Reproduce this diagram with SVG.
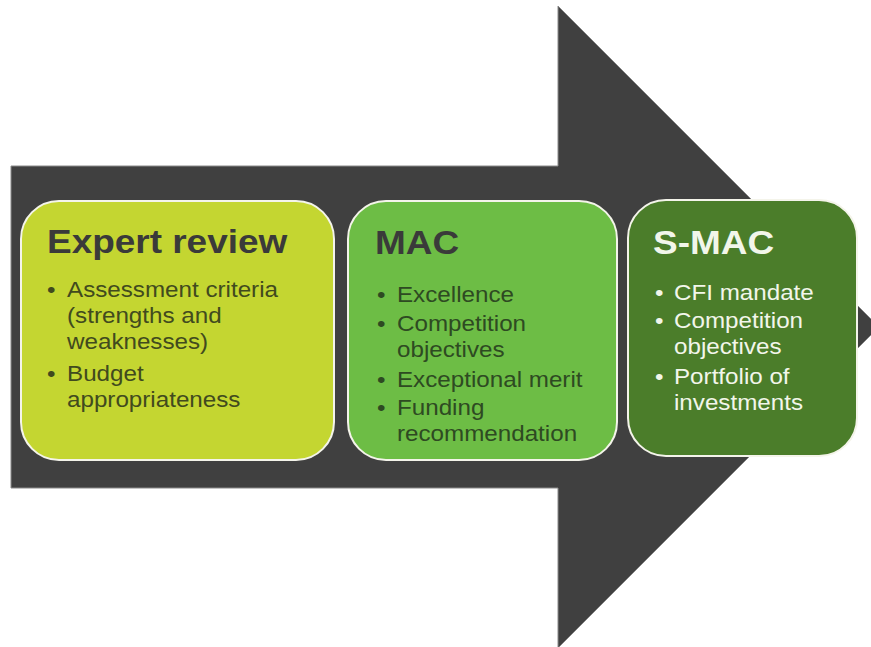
<svg xmlns="http://www.w3.org/2000/svg" width="871" height="647" viewBox="0 0 871 647">
  <style>
    .stage { stroke: #f4f4ea; stroke-width: 2; }
    .head { font-family: "Liberation Sans", Arial, sans-serif; font-weight: bold; font-size: 33.6px; }
    .item { font-family: "Liberation Sans", Arial, sans-serif; font-size: 22px; }
    .dark { fill: #3a3a3a; }
    .olive { fill: #414a1e; }
    .forest { fill: #2e4a22; }
    .light { fill: #f2f6ea; }
  </style>

  <rect x="0" y="0" width="871" height="647" fill="#ffffff"/>

  <!-- large process arrow behind the stages -->
  <g id="connectors">
    <path id="flow-arrow" d="M11 166 H558 V6 L879 327 L558 648 V488 H11 Z" fill="#404040" stroke="#8a8a8a" stroke-width="1"/>
  </g>

  <!-- stage 1 -->
  <g id="expert-review">
    <rect class="stage" x="21" y="201" width="313" height="259" rx="38" ry="38" fill="#c4d631"/>
    <g transform="translate(47,0) scale(1.1,1)">
      <text class="head dark" x="0" y="253">Expert review</text>
      <g class="item olive">
        <text x="0" y="297">•</text>
        <text x="18.2" y="297">Assessment criteria</text>
        <text x="18.2" y="323">(strengths and</text>
        <text x="18.2" y="349">weaknesses)</text>
        <text x="0" y="381">•</text>
        <text x="18.2" y="381">Budget</text>
        <text x="18.2" y="407">appropriateness</text>
      </g>
    </g>
  </g>

  <!-- stage 2 -->
  <g id="mac">
    <rect class="stage" x="348" y="201" width="269" height="259" rx="38" ry="38" fill="#6dbd45"/>
    <g transform="translate(375,0) scale(1.1,1)">
      <text class="head dark" x="0" y="254">MAC</text>
      <g class="item forest">
        <text x="1.8" y="302">•</text>
        <text x="20" y="302">Excellence</text>
        <text x="1.8" y="331">•</text>
        <text x="20" y="331">Competition</text>
        <text x="20" y="357">objectives</text>
        <text x="1.8" y="387">•</text>
        <text x="20" y="387">Exceptional merit</text>
        <text x="1.8" y="415">•</text>
        <text x="20" y="415">Funding</text>
        <text x="20" y="441">recommendation</text>
      </g>
    </g>
  </g>

  <!-- stage 3 -->
  <g id="s-mac">
    <rect class="stage" x="628" y="200" width="229" height="256" rx="38" ry="38" fill="#4b7d2a"/>
    <g transform="translate(653,0) scale(1.1,1)">
      <text class="head light" x="0" y="254">S-MAC</text>
      <g class="item light">
        <text x="1.8" y="300">•</text>
        <text x="19.1" y="300">CFI mandate</text>
        <text x="1.8" y="328">•</text>
        <text x="19.1" y="328">Competition</text>
        <text x="19.1" y="354">objectives</text>
        <text x="1.8" y="384">•</text>
        <text x="19.1" y="384">Portfolio of</text>
        <text x="19.1" y="410">investments</text>
      </g>
    </g>
  </g>
</svg>
